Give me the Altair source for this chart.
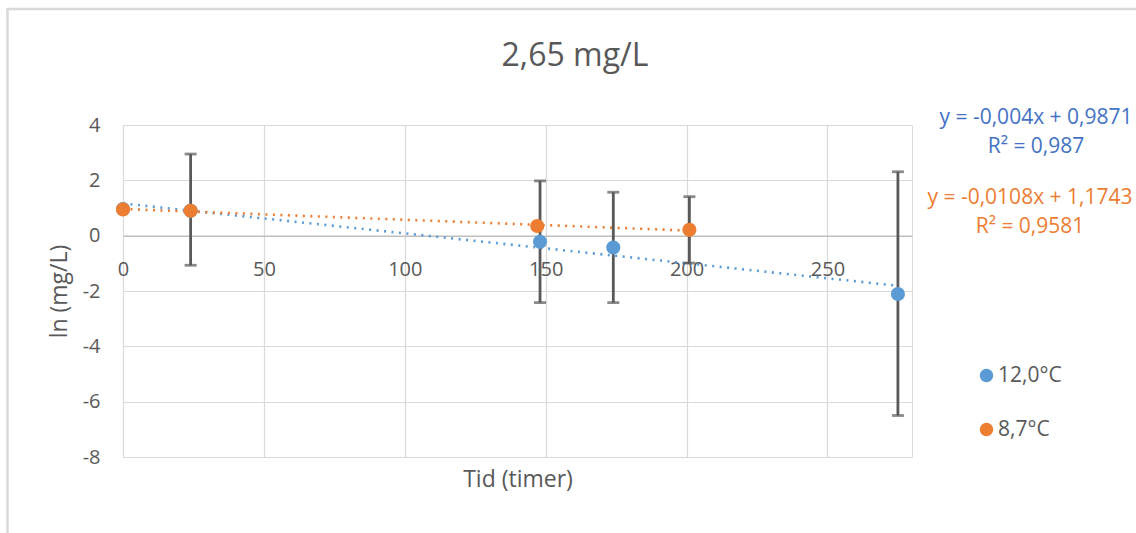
import altair as alt
import pandas as pd

# ---- data ----
series_names = ["12,0°C", "8,7°C"]
blue_x = [0, 24, 148, 174, 275]
blue_y = [0.96, 0.90, -0.22, -0.43, -2.11]
orange_x = [0, 24, 147, 201]
orange_y = [0.95, 0.90, 0.35, 0.21]
err_x = [24, 148, 174, 201, 275]
err_lo = [-1.07, -2.42, -2.42, -0.99, -6.50]
err_hi = [2.95, 1.98, 1.57, 1.41, 2.31]
x_ticks = [0, 50, 100, 150, 200, 250]
y_ticks = [-8, -6, -4, -2, 0, 2, 4]
title_text = "2,65 mg/L"
x_title = "Tid (timer)"
y_title = "ln (mg/L)"
eq_texts = ["y = -0,004x + 0,9871", "R² = 0,987", "y = -0,0108x + 1,1743", "R² = 0,9581"]

BLUE = "#5B9BD5"
ORANGE = "#ED7D31"
EQ_BLUE = "#4472C4"
GREY_TXT = "#595959"
FONT = "Open Sans"

pts = pd.DataFrame(
    {"x": blue_x, "y": blue_y, "series": series_names[0]}
)
pts = pd.concat(
    [pts, pd.DataFrame({"x": orange_x, "y": orange_y, "series": series_names[1]})],
    ignore_index=True,
)
err = pd.DataFrame({"x": err_x, "lo": err_lo, "hi": err_hi})

W, H = 789, 332

xscale = alt.Scale(domain=[0, 280], nice=False, zero=False)
yscale = alt.Scale(domain=[-8, 4], nice=False, zero=False)
cscale = alt.Scale(domain=series_names, range=[BLUE, ORANGE])

x_axis = alt.Axis(
    values=x_ticks, grid=True, gridColor="#d9d9d9", gridWidth=1.2,
    domain=True, domainColor="#bfbfbf", domainWidth=1.4,
    ticks=False, offset=-221.3, labelPadding=24, labelFontSize=20,
    labelColor=GREY_TXT, labelFont=FONT, labelFlush=False,
    labelExpr="'' + datum.value",
    title=x_title, titleFontSize=23, titleFontWeight="normal", titleColor=GREY_TXT,
    titleFont=FONT, titleX=W / 2, titleY=251, titleBaseline="alphabetic", titleAlign="center",
)
y_axis = alt.Axis(
    values=y_ticks, grid=True, gridColor="#d9d9d9", gridWidth=1.2,
    domain=False, ticks=False, labelPadding=23, labelFontSize=20,
    labelColor=GREY_TXT, labelFont=FONT, labelFlush=False,
    labelExpr="'' + datum.value",
    title=y_title, titleFontSize=23, titleFontWeight="normal", titleColor=GREY_TXT,
    titleFont=FONT, titleX=-64, titleY=H / 2, titleAngle=270,
    titleAlign="center", titleBaseline="middle",
)

base = alt.Chart(pts)


def trend_for(name, color, with_axes=False):
    enc_x = alt.X("x:Q", scale=xscale, axis=x_axis) if with_axes else alt.X("x:Q")
    enc_y = alt.Y("y:Q", scale=yscale, axis=y_axis) if with_axes else alt.Y("y:Q")
    return (
        base.transform_filter(alt.datum.series == name)
        .transform_regression("x", "y")
        .mark_line(strokeDash=[2, 5.5], strokeWidth=2.6, color=color)
        .encode(x=enc_x, y=enc_y)
    )


trend_blue = trend_for(series_names[0], BLUE, with_axes=True)
trend_orange = trend_for(series_names[1], ORANGE)

ebar = alt.Chart(err).mark_rule(color="#595959", strokeWidth=2.8).encode(
    x="x:Q", y="lo:Q", y2="hi:Q"
)
cap_lo = alt.Chart(err).mark_tick(
    color="#595959", orient="horizontal", size=12, thickness=2.8
).encode(x="x:Q", y="lo:Q")
cap_hi = alt.Chart(err).mark_tick(
    color="#595959", orient="horizontal", size=12, thickness=2.8
).encode(x="x:Q", y="hi:Q")

points = base.mark_circle(size=200, opacity=1).encode(
    x="x:Q",
    y="y:Q",
    color=alt.Color(
        "series:N",
        scale=cscale,
        legend=alt.Legend(
            orient="none", legendX=853, legendY=240, title=None,
            symbolType="circle", symbolSize=180, symbolStrokeWidth=0,
            symbolOpacity=1,
            labelFontSize=21, labelColor=GREY_TXT, labelFont=FONT,
            labelOffset=1, rowPadding=32,
        ),
    ),
    order=alt.Order("series:N", sort="ascending"),
)

one = alt.Data(values=[{"k": 1}])


def label(text, x, y, size, color, align="center"):
    return alt.Chart(one).mark_text(
        fontSize=size, color=color, font=FONT, align=align, baseline="alphabetic"
    ).encode(x=alt.value(x), y=alt.value(y), text=alt.value(text))


title = label(title_text, 452, -59, 32, GREY_TXT)
eq1 = label(eq_texts[0], 913, -1, 21, EQ_BLUE)
eq2 = label(eq_texts[1], 913, 28, 21, EQ_BLUE)
eq3 = label(eq_texts[2], 907, 79, 21, ORANGE)
eq4 = label(eq_texts[3], 907, 108, 21, ORANGE)

frame_left = alt.Chart(one).mark_rule(color="#d9d9d9", strokeWidth=2.5).encode(
    x=alt.value(-115.5), y=alt.value(-116), y2=alt.value(410)
)
frame_top = alt.Chart(one).mark_rule(color="#d9d9d9", strokeWidth=2.5).encode(
    x=alt.value(-116.7), x2=alt.value(1015), y=alt.value(-116)
)

chart = alt.layer(
    trend_blue, trend_orange, frame_left, frame_top, ebar, cap_lo, cap_hi, points,
    title, eq1, eq2, eq3, eq4,
).properties(
    width=W, height=H,
    autosize=alt.AutoSizeParams(type="none"),
    padding={"left": 123, "top": 125, "right": 224, "bottom": 76},
    background="white",
).configure_view(strokeWidth=0).configure(font=FONT)

chart.save("out.html", embed_options={"renderer": "svg", "actions": False})
